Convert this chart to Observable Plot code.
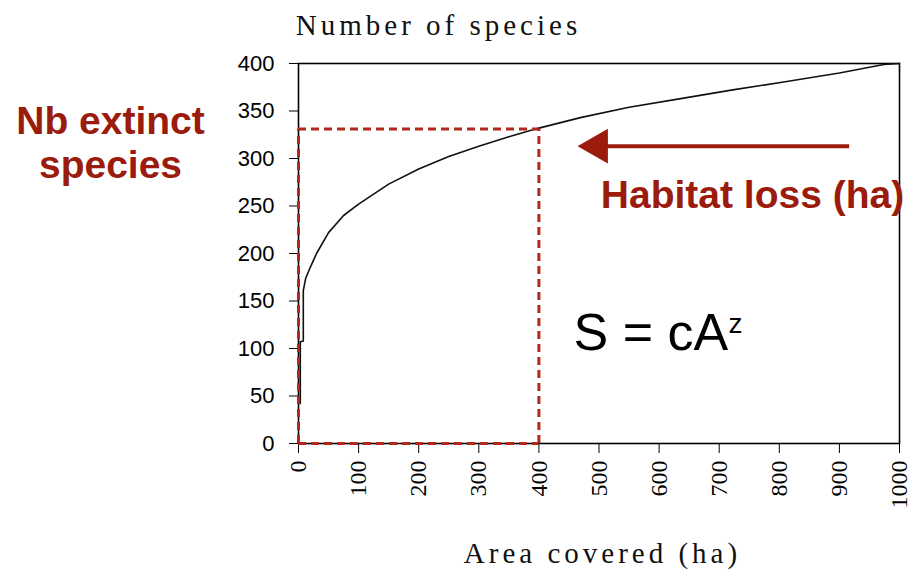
<!DOCTYPE html>
<html>
<head>
<meta charset="utf-8">
<script src="https://cdn.jsdelivr.net/npm/d3@7"></script>
<script src="https://cdn.jsdelivr.net/npm/@observablehq/plot@0.6"></script>
<style>
  body { margin: 0; background: #fff; }
  svg { overflow: visible; }
</style>
</head>
<body>
<div id="chart"></div>
<script>
// Curve S = cA^z
const area    = [3, 3, 8, 8, 12, 20, 30, 50, 75, 100, 150, 200, 250, 300, 350, 400, 469, 550, 636, 720, 802, 900, 974, 1000];
const species = [42, 107, 108, 161, 174, 186, 200, 222, 240, 252, 273, 289, 302, 313, 323, 332, 343, 354, 363, 372, 380, 390, 399, 400];

// Habitat-loss marker (dashed box)
const lossArea = [400];
const lossSpecies = [331];

// Arrow "Habitat loss" (data units)
const arrowTail = [917];
const arrowHead = [498];
const arrowY = [313];

// Tick values
const xTicks = [0, 100, 200, 300, 400, 500, 600, 700, 800, 900, 1000];
const yTicks = [0, 50, 100, 150, 200, 250, 300, 350, 400];

const curve = area.map((a, i) => ({area: a, species: species[i]}));
const red = "#b3281c";
const darkRed = "#9b1b0c";

const chart = Plot.plot({
  width: 911,
  height: 577,
  marginLeft: 298,
  marginRight: 12,
  marginTop: 63,
  marginBottom: 134,
  style: {background: "#fff", color: "#000"},
  x: {domain: [0, 1000]},
  y: {domain: [0, 400]},
  marks: [
    Plot.axisY({ticks: yTicks, tickSize: 9, tickPadding: 15, fontSize: 22, fontFamily: "Liberation Sans", label: null, tickFormat: d => String(d)}),
    Plot.axisX({ticks: xTicks, tickRotate: -90, tickSize: 10, tickPadding: 7, fontSize: 24, fontFamily: "Liberation Serif", label: null, tickFormat: d => String(d)}),
    Plot.frame({stroke: "#000", strokeWidth: 1.6}),
    Plot.line(curve, {x: "area", y: "species", stroke: "#111", strokeWidth: 1.6}),
    // dashed box
    Plot.ruleY(lossSpecies, {x1: 0, x2: lossArea[0], stroke: red, strokeWidth: 3, strokeDasharray: "8,5"}),
    Plot.ruleY([0], {x1: 0, x2: lossArea[0], stroke: red, strokeWidth: 3, strokeDasharray: "8,5"}),
    Plot.ruleX(lossArea, {y1: 0, y2: lossSpecies[0], stroke: red, strokeWidth: 3, strokeDasharray: "8,5"}),
    Plot.ruleX([0], {y1: 0, y2: lossSpecies[0], stroke: red, strokeWidth: 3, strokeDasharray: "8,5"}),
    // arrow
    Plot.ruleY(arrowY, {x1: arrowHead[0], x2: arrowTail[0], stroke: darkRed, strokeWidth: 4}),
    Plot.dot(arrowY, {x: arrowHead, y: d => d, symbol: "triangle", r: 12, rotate: -90, fill: darkRed, stroke: darkRed}),
    // titles
    Plot.text(["Number of species"], {frameAnchor: "top-left", dx: 140, dy: -49, lineAnchor: "top", textAnchor: "middle", fontSize: 29, fontFamily: "Liberation Serif", fill: "#111"}),
    Plot.text(["Area covered (ha)"], {frameAnchor: "bottom-left", dx: 304, dy: 99, lineAnchor: "top", textAnchor: "middle", fontSize: 29, fontFamily: "Liberation Serif", fill: "#111"}),
    // annotations
    Plot.text(["Nb extinct\nspecies"], {frameAnchor: "top-left", dx: -188, dy: 39, lineAnchor: "top", lineHeight: 1.13, textAnchor: "middle", fontSize: 39, fontWeight: "bold", fontFamily: "Liberation Sans", fill: darkRed}),
    Plot.text(["Habitat loss (ha)"], {frameAnchor: "top-left", dx: 454, dy: 117, lineAnchor: "top", textAnchor: "middle", fontSize: 39, fontWeight: "bold", fontFamily: "Liberation Sans", fill: darkRed}),
    Plot.text(["S = cA"], {frameAnchor: "top-left", dx: 275, dy: 250, lineAnchor: "top", textAnchor: "start", fontSize: 52, fontFamily: "Liberation Sans", fill: "#000"}),
    Plot.text(["z"], {frameAnchor: "top-left", dx: 430, dy: 250, lineAnchor: "top", textAnchor: "start", fontSize: 28, fontFamily: "Liberation Sans", fill: "#000"})
  ]
});
// wide letter spacing for the serif titles, as in the reference
d3.select(chart).selectAll("text")
  .filter(function () { const t = this.textContent; return t === "Number of species" || t === "Area covered (ha)"; })
  .style("letter-spacing", "4px");
document.getElementById("chart").appendChild(chart);
</script>
</body>
</html>
